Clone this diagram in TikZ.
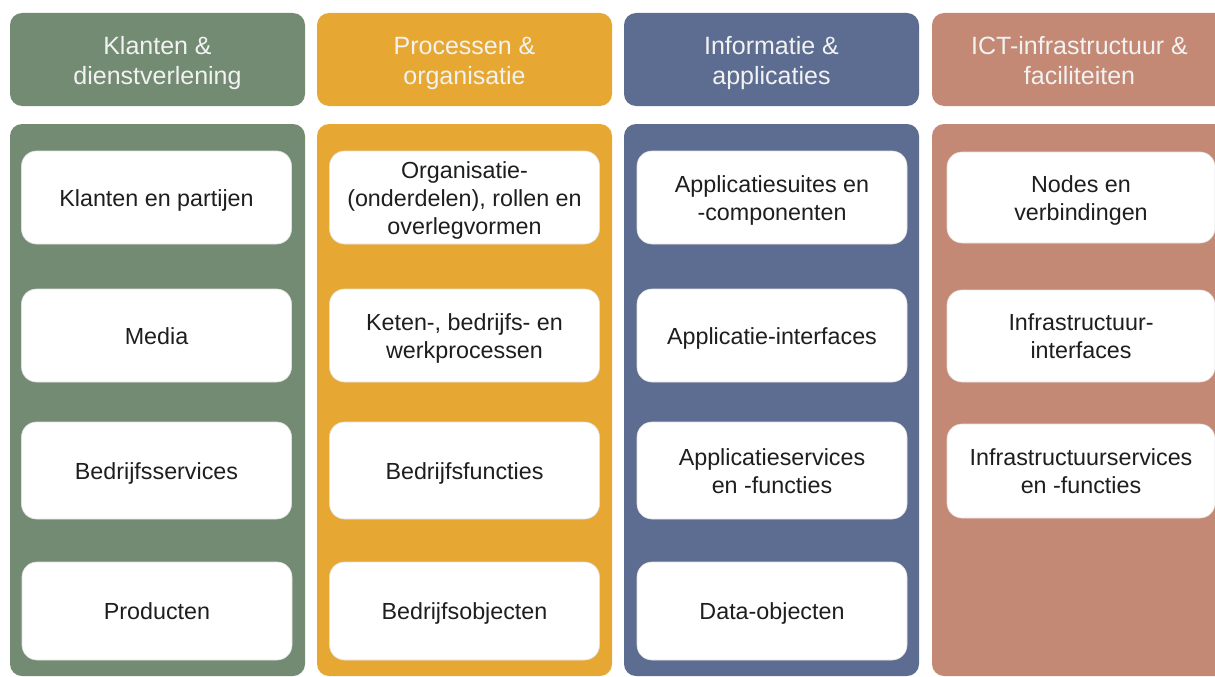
\documentclass[tikz,border=0pt]{standalone}
\usepackage{fontspec}
\setmainfont{Liberation Sans}
\definecolor{klant}{RGB}{114,139,114}
\definecolor{proces}{RGB}{230,168,50}
\definecolor{info}{RGB}{93,109,145}
\definecolor{ict}{RGB}{196,137,117}
\definecolor{tekst}{RGB}{30,30,30}

\begin{document}
\begin{tikzpicture}[x=1pt, y=-1pt,
    kop/.style={rounded corners=12pt, minimum width=295pt, minimum height=93pt,
      text=white!95!black, align=center, inner sep=2pt,
      font=\fontsize{25}{30}\selectfont,
      execute at begin node={\rule{0pt}{56pt}},
      execute at end node={\rule[-6pt]{0pt}{6pt}}},
    kolom/.style={rounded corners=12pt, minimum width=295pt, minimum height=552pt},
    blok/.style={fill=white, draw=black!12, line width=0.6pt, rounded corners=15pt,
      minimum width=270pt, text=tekst, align=center, inner sep=2pt,
      font=\fontsize{23.3}{28}\selectfont,
      execute at begin node={\rule{0pt}{22pt}},
      execute at end node={\rule[-5pt]{0pt}{5pt}}},
    twee/.style={execute at begin node={\rule{0pt}{50pt}}},
    drie/.style={execute at begin node={\rule{0pt}{78pt}}}]
      \useasboundingbox (0, 0) rectangle (1215, 677);
      \clip (0, 0) rectangle (1215, 677);
      % koppen
      \node[kop, fill=klant] (k1) at (157.5, 59.5) {Klanten \&\\dienstverlening};
      \node[kop, fill=proces] (k2) at (464.5, 59.5) {Processen \&\\organisatie};
      \node[kop, fill=info] (k3) at (771.5, 59.5) {Informatie \&\\applicaties};
      \node[kop, fill=ict] (k4) at (1079.5, 59.5) {ICT-infrastructuur \&\\faciliteiten};
      % kolommen
      \node[kolom, fill=klant] (c1) at (157.5, 400) {};
      \node[kolom, fill=proces] (c2) at (464.5, 400) {};
      \node[kolom, fill=info] (c3) at (771.5, 400) {};
      \node[kolom, fill=ict] (c4) at (1079.5, 400) {};
      % klanten en dienstverlening
      \node[blok, minimum height=93pt] (a1) at (156.5, 197.5) {Klanten en partijen};
      \node[blok, minimum height=93pt] (a2) at (156.5, 335.5) {Media};
      \node[blok, minimum height=97pt] (a3) at (156.5, 470.5) {Bedrijfsservices};
      \node[blok, minimum height=98pt] (a4) at (157, 611) {Producten};
      % processen en organisatie
      \node[blok, drie, minimum height=93pt] (b1) at (464.5, 197.5) {Organisatie-\\(onderdelen), rollen en\\overlegvormen};
      \node[blok, twee, minimum height=93pt] (b2) at (464.5, 335.5) {Keten-, bedrijfs- en\\werkprocessen};
      \node[blok, minimum height=97pt] (b3) at (464.5, 470.5) {Bedrijfsfuncties};
      \node[blok, minimum height=98pt] (b4) at (464.5, 611) {Bedrijfsobjecten};
      % informatie en applicaties
      \node[blok, twee, minimum height=93pt] (d1) at (772, 197.5) {Applicatiesuites en\\-componenten};
      \node[blok, minimum height=93pt] (d2) at (772, 335.5) {Applicatie-interfaces};
      \node[blok, twee, minimum height=97pt] (d3) at (772, 470.5) {Applicatieservices\\en -functies};
      \node[blok, minimum height=98pt] (d4) at (772, 611) {Data-objecten};
      % ict-infrastructuur en faciliteiten
      \node[blok, twee, minimum width=268pt, minimum height=91pt] (e1) at (1081, 197.5) {Nodes en\\verbindingen};
      \node[blok, twee, minimum width=268pt, minimum height=92pt] (e2) at (1081, 336) {Infrastructuur-\\interfaces};
      \node[blok, twee, minimum width=268pt, minimum height=94pt] (e3) at (1081, 471) {Infrastructuurservices\\en -functies};
    \end{tikzpicture}
\end{document}
